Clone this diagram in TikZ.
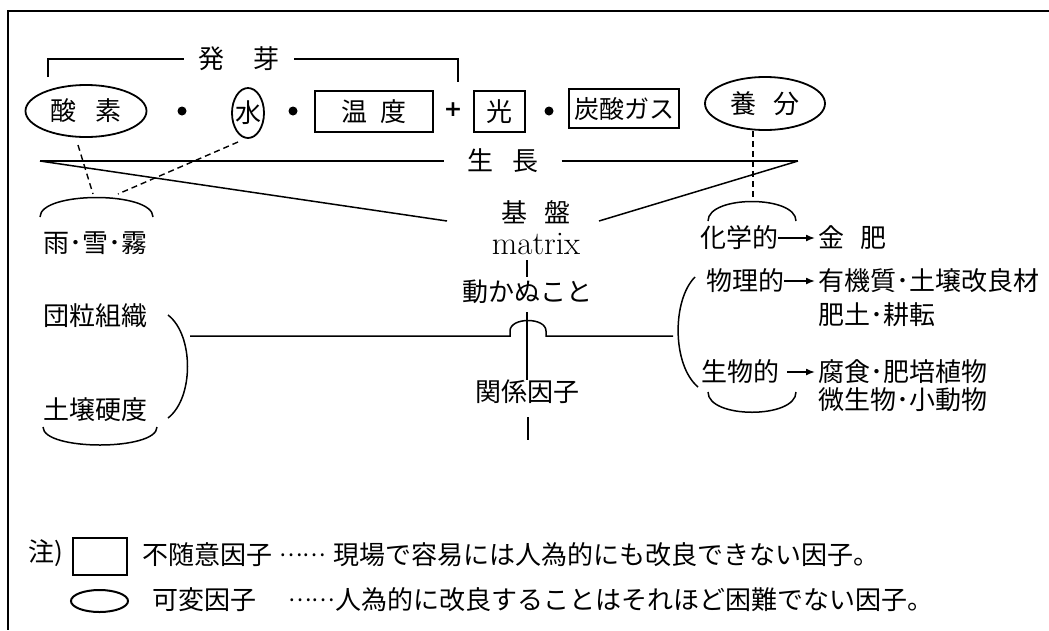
\documentclass[tikz,border=0pt]{standalone}
\usepackage{fontspec}
\newfontfamily\jp{Noto Sans CJK JP}
\newfontfamily\dvs{DejaVu Sans}
\usetikzlibrary{shapes.geometric,arrows.meta}
\begin{document}
\begin{tikzpicture}[x=1pt,y=-1pt,
  txt/.style={inner sep=0pt,font=\jp\fontsize{26}{30}\selectfont},
  ell/.style={draw,ellipse,line width=1.8pt,inner sep=0pt,font=\jp\fontsize{26}{30}\selectfont},
  fbox/.style={draw,rectangle,line width=1.5pt,inner sep=0pt,font=\jp\fontsize{26}{30}\selectfont},
  ln/.style={line width=1.5pt},
  dsh/.style={line width=1.4pt,dash pattern=on 6pt off 4pt},
  arr/.style={line width=1.5pt,-{Latex[length=9pt,width=7pt]}},
  dotn/.style={circle,fill,inner sep=0pt,minimum size=9pt}
]
\useasboundingbox (0,0) rectangle (1049,630);
% frame
\draw[line width=2pt] (1049,11) -- (8,11) -- (8,630);

% germination bracket
\node[txt,inner xsep=14pt] (hatsuga) at (239,59) {発\hspace{30pt}芽};
\coordinate (hbl) at (48,77);
\coordinate (hbr) at (458,82);
\draw[ln] (hbl) |- (hatsuga.west);
\draw[ln] (hatsuga.east) -| (hbr);

% first row
\node[ell,minimum width=121pt,minimum height=52pt] (sanso) at (86,111) {酸\hspace{20pt}素};
\node[dotn] (d1) at (182,111) {};
\node[ell,minimum width=32pt,minimum height=50pt] (mizu) at (248,113) {\makebox[0pt]{水}};
\node[dotn] (d2) at (293,111) {};
\node[fbox,minimum width=118pt,minimum height=41pt] (ondo) at (374,111.5) {温\hspace{14pt}度};
\node[inner sep=0pt,font=\dvs\bfseries\fontsize{22}{22}\selectfont] (plus) at (453,110) {+};
\node[fbox,minimum width=51pt,minimum height=41pt] (hikari) at (499.5,111.5) {光};
\node[dotn] (d3) at (549,111) {};
\node[fbox,minimum width=110pt,minimum height=39pt,font=\jp\fontsize{25}{30}\selectfont] (tansan) at (624,108.5) {炭酸ガス};
\node[ell,minimum width=120pt,minimum height=53pt] (youbun) at (765,103.5) {養\hspace{17pt}分};

% growth line
\node[txt,inner xsep=23pt] (seichou) at (503,161) {生\hspace{19pt}長};
\coordinate (gl) at (40,161);
\coordinate (gr) at (798,161);
\draw[ln] (gl) -- (seichou.west);
\draw[ln] (seichou.east) -- (gr);
\coordinate (kl) at (447,221);
\coordinate (kr) at (599,221);
\draw[ln] (gl) -- (kl);
\draw[ln] (gr) -- (kr);

% dashed links
\coordinate (s1) at (78,145);
\coordinate (a1) at (93,194);
\coordinate (m1) at (238,142);
\coordinate (a2) at (118,194);
\draw[dsh] (s1) -- (a1);
\draw[dsh] (m1) -- (a2);
\coordinate (y1) at (753,131);
\coordinate (y2) at (753,200);
\draw[dsh] (y1) -- (y2);

% caps
\draw[ln] (40,217) .. controls (40,191) and (153,191) .. (153,217);
\draw[ln] (708,221) .. controls (708,195) and (796,195) .. (796,221);

% left texts
\node[txt] (ame) at (95,243) {雨･雪･霧};
\node[txt] (dan) at (95,316) {団粒組織};
\node[txt] (dojo) at (95,410) {土壌硬度};
\draw[ln] (168,315) .. controls (194,335) and (194,398) .. (168,418);
\draw[ln] (43,427) .. controls (43,451) and (157,451) .. (157,427);

% centre column
\node[txt] (kiban) at (536,212) {基\hspace{17pt}盤};
\node[inner sep=0pt,font=\fontsize{33}{36}\selectfont] (mtx) at (536,244) {matrix};
\node[txt] (ugokanu) at (527,292) {動かぬこと};
\node[txt] (kankei) at (527,392) {関係因子};
\coordinate (c1) at (527,260);
\coordinate (c2) at (527,277);
\draw[ln] (c1) -- (c2);
\coordinate (c3) at (527,312);
\coordinate (c4) at (527,380);
\draw[ln] (c3) -- (c4);
\coordinate (c5) at (528,417);
\coordinate (c6) at (528,440);
\draw[ln] (c5) -- (c6);

% hump line
\coordinate (hl) at (190,336);
\coordinate (hr) at (673,336);
\draw[ln] (hl) -- (510,336) -- (510,331) .. controls (510,317) and (546,317) .. (546,331) -- (546,336) -- (hr);

% right side
\draw[ln] (695,277) .. controls (672,300) and (672,365) .. (698,387);
\node[txt] (kagaku) at (739,238) {化学的};
\node[txt,anchor=west] (kinhi) at (818,238) {金\hspace{16pt}肥};
\draw[arr,shorten >=3pt] (kagaku.east) -- (kinhi.west);
\node[txt] (butsuri) at (745,281) {物理的};
\node[txt,anchor=west] (yuuki) at (818,281) {有機質･土壌改良材};
\draw[arr,shorten >=3pt] (butsuri.east) -- (yuuki.west);
\node[txt,anchor=west] (hido) at (818,315) {肥土･耕転};
\node[txt] (seibutsu) at (740,372) {生物的};
\node[txt,anchor=west] (fushoku) at (818,372) {腐食･肥培植物};
\draw[arr,shorten >=3pt,shorten <=8pt] (seibutsu.east) -- (fushoku.west);
\node[txt,anchor=west] (bisei) at (818,400) {微生物･小動物};
\draw[ln] (708,392) .. controls (708,419) and (796,419) .. (796,392);

% legend
\node[txt,anchor=west] (chu) at (28,553) {注)};
\node[draw,line width=2pt,minimum width=54pt,minimum height=37pt,inner sep=0pt] (lbox) at (100,556.5) {};
\node[txt,anchor=west] (fuzuii) at (142,555) {不随意因子};
\node[txt,anchor=west,font=\jp\fontsize{22}{30}\selectfont] (dots1) at (279,555) {……};
\node[txt,anchor=west] (expl1) at (333,555) {現場で容易には人為的にも改良できない因子。};
\node[draw,ellipse,line width=2pt,minimum width=57pt,minimum height=22pt,inner sep=0pt] (lell) at (99.5,601) {};
\node[txt,anchor=west] (kahen) at (152,600) {可変因子};
\node[txt,anchor=west,font=\jp\fontsize{22}{30}\selectfont] (dots2) at (288,600) {……};
\node[txt,anchor=west] (expl2) at (335,600) {人為的に改良することはそれほど困難でない因子。};
\end{tikzpicture}
\end{document}
